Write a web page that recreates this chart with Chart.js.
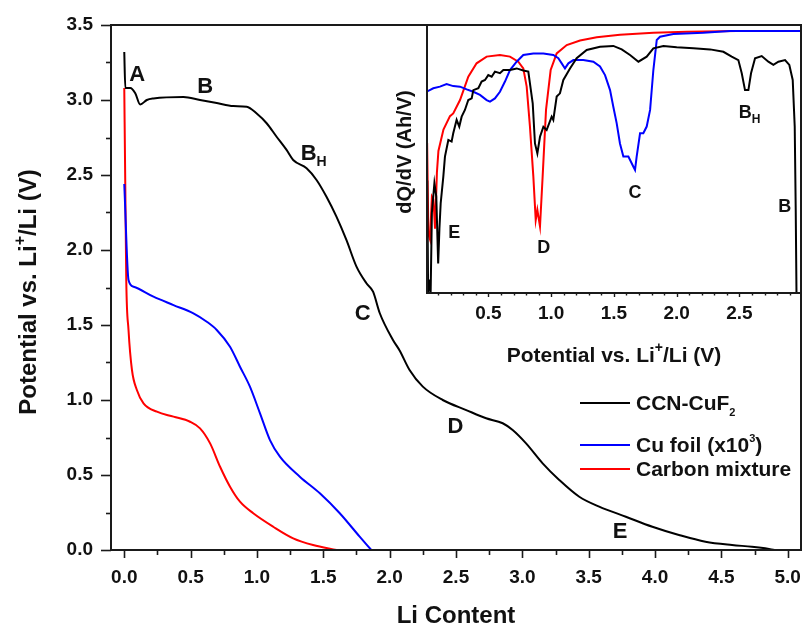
<!DOCTYPE html>
<html>
<head>
<meta charset="utf-8">
<script src="https://cdn.jsdelivr.net/npm/chart.js@4.4.1/dist/chart.umd.min.js"></script>
<style>
  html, body { margin: 0; padding: 0; background: #fff; }
  #wrap { position: relative; width: 803px; height: 625px; }
  #mainChart { position: absolute; left: 0; top: 0; }
  #insetChart { position: absolute; left: 380px; top: 0; }
</style>
</head>
<body>
<div id="wrap">
  <canvas id="mainChart" width="803" height="625"></canvas>
  <canvas id="insetChart" width="423" height="380"></canvas>
</div>
<script>
// ---- main panel: potential vs Li content ----
const ccnX = [0, 0.008, 0.045, 0.083, 0.12, 0.17, 0.22, 0.446, 0.571, 0.697, 0.822, 0.923, 0.998, 1.073, 1.148,
  1.223, 1.273, 1.374, 1.449, 1.524, 1.599, 1.674, 1.75, 1.825, 1.875, 1.925, 2.025, 2.075, 2.15, 2.25, 2.40,
  2.577, 2.727, 2.852, 2.927, 3.028, 3.153, 3.278, 3.429, 3.579, 3.78, 3.98, 4.18, 4.38, 4.58, 4.73, 4.83, 4.90];
const ccnY = [3.32, 3.08, 3.08, 3.045, 2.97, 3.0, 3.01, 3.02, 3.0, 2.98, 2.96, 2.955, 2.91, 2.845, 2.755,
  2.667, 2.60, 2.545, 2.467, 2.355, 2.222, 2.067, 1.889, 1.778, 1.722, 1.58, 1.40, 1.33, 1.20, 1.089, 1.0,
  0.933, 0.878, 0.845, 0.80, 0.711, 0.578, 0.467, 0.355, 0.289, 0.222, 0.155, 0.10, 0.055, 0.033, 0.022, 0.011, 0.0];

const cuX = [0, 0.032, 0.07, 0.22, 0.371, 0.521, 0.622, 0.697, 0.797, 0.872, 0.947, 1.023, 1.098, 1.173,
  1.323, 1.474, 1.624, 1.774, 1.862];
const cuY = [2.44, 1.80, 1.755, 1.689, 1.633, 1.578, 1.522, 1.467, 1.355, 1.222, 1.089, 0.911, 0.733, 0.622,
  0.489, 0.378, 0.245, 0.089, 0.0];

const carbX = [0, 0.008, 0.015, 0.032, 0.058, 0.095, 0.145, 0.246, 0.371, 0.496, 0.571, 0.647, 0.722, 0.797,
  0.872, 0.972, 1.123, 1.273, 1.423, 1.60];
const carbY = [3.08, 2.40, 1.80, 1.467, 1.20, 1.067, 0.978, 0.922, 0.889, 0.855, 0.811, 0.711, 0.555, 0.422,
  0.322, 0.245, 0.155, 0.078, 0.033, 0.0];

const mainXTicks = [0, 0.25, 0.5, 0.75, 1, 1.25, 1.5, 1.75, 2, 2.25, 2.5, 2.75, 3, 3.25, 3.5, 3.75, 4, 4.25, 4.5, 4.75, 5];
const mainYTicks = [0, 0.25, 0.5, 0.75, 1, 1.25, 1.5, 1.75, 2, 2.25, 2.5, 2.75, 3, 3.25, 3.5];

// ---- inset: dQ/dV (arbitrary units, 0 = bottom, 100 = top) ----
const dqCcnX = [0.013, 0.02, 0.03, 0.04, 0.05, 0.07, 0.085, 0.1, 0.11, 0.12, 0.141, 0.154, 0.181, 0.207, 0.22,
  0.247, 0.268, 0.287, 0.313, 0.34, 0.367, 0.38, 0.42, 0.446, 0.473, 0.499, 0.526, 0.552, 0.592, 0.619, 0.672,
  0.725, 0.778, 0.818, 0.853, 0.871, 0.89, 0.911, 0.938, 0.964, 1.004, 1.017, 1.044, 1.07, 1.097, 1.15, 1.203,
  1.283, 1.389, 1.495, 1.562, 1.628, 1.695, 1.761, 1.814, 1.894, 2.0, 2.133, 2.266, 2.372, 2.438, 2.491, 2.518,
  2.544, 2.571, 2.592, 2.624, 2.677, 2.73, 2.77, 2.81, 2.863, 2.897, 2.924, 2.94, 2.948, 2.954];
const dqCcnY = [42, 0, 5, 0, 30, 41, 36, 11, 24, 33.5, 43.4, 50.9, 57.1, 56.5, 59.6,
  64.6, 62.1, 65.8, 68.3, 72.0, 72.6, 75.7, 76.4, 78.9, 79.5, 81.3, 80.7, 82.6, 82.0, 83.2, 83.2,
  83.8, 83.0, 82.6, 70.8, 55.8, 52.1, 58.3, 62.0, 60.8, 65.8, 64.6, 73.3, 74.5, 79.5, 83.8, 87.6,
  90.7, 91.9, 92.2, 90.9, 88.8, 86.3, 88.2, 91.3, 92.2, 91.7, 91.3, 90.9, 90.0, 88.2, 86.9, 82.0,
  75.7, 75.7, 82.0, 87.6, 88.4, 86.3, 85.1, 86.3, 86.9, 85.1, 79.5, 62.1, 31.0, 0];

const dqCuX = [0.008, 0.061, 0.114, 0.167, 0.22, 0.274, 0.327, 0.38, 0.433, 0.486, 0.513, 0.552, 0.592, 0.632,
  0.672, 0.725, 0.778, 0.858, 0.938, 1.017, 1.057, 1.084, 1.11, 1.137, 1.177, 1.256, 1.336, 1.389, 1.429, 1.469,
  1.495, 1.522, 1.548, 1.575, 1.615, 1.655, 1.668, 1.681, 1.708, 1.734, 1.761, 1.788, 1.814, 1.841, 1.867,
  1.973, 2.212, 2.425, 2.99];
const dqCuY = [75.1, 76.4, 77.0, 78.0, 77.2, 77.0, 76.0, 75.1, 73.9, 72.0, 71.4, 72.6, 75.1, 78.9,
  83.2, 86.3, 88.8, 89.4, 89.4, 88.8, 87.6, 85.7, 83.8, 85.7, 86.9, 86.9, 86.3, 84.5, 81.3, 75.7,
  69.5, 63.3, 55.8, 50.9, 50.9, 47.1, 45.9, 50.9, 59.6, 59.6, 62.1, 68.3, 83.2, 94.4, 95.6,
  96.6, 97.1, 97.8, 97.8];

const dqCarbX = [0.012, 0.022, 0.035, 0.05, 0.062, 0.075, 0.09, 0.102, 0.142, 0.194, 0.22, 0.274, 0.34, 0.406,
  0.486, 0.592, 0.672, 0.738, 0.778, 0.805, 0.831, 0.858, 0.877, 0.89, 0.911, 0.932, 0.959, 0.996, 1.044, 1.124,
  1.23, 1.363, 1.548, 1.814, 2.08, 2.478, 2.99];
const dqCarbY = [56, 22, 20, 36, 35, 24, 45, 53, 61, 66, 67, 72.0, 80.7, 85.7,
  88.2, 88.8, 88.2, 86.3, 83.8, 77.0, 62.1, 43.5, 27.2, 31.0, 24.8, 43.4, 68.3, 83.2, 89.4, 92.5,
  94.2, 95.4, 96.4, 97.1, 97.5, 97.8, 97.8];

const insetXTicks = [0.1, 0.2, 0.3, 0.4, 0.5, 0.6, 0.7, 0.8, 0.9, 1.0, 1.1, 1.2, 1.3, 1.4, 1.5, 1.6, 1.7, 1.8,
  1.9, 2.0, 2.1, 2.2, 2.3, 2.4, 2.5, 2.6, 2.7, 2.8, 2.9];

const seriesNames = ["CCN-CuF2", "Cu foil (x10^3)", "Carbon mixture"];
const seriesColors = ["#000000", "#0000ff", "#ff0000"];

// letter labels placed in data units
const mainMarks = [
  { t: "A", x: 0.098, y: 3.18 }, { t: "B", x: 0.609, y: 3.10 }, { t: "B", sub: "H", x: 1.391, y: 2.653 },
  { t: "C", x: 1.797, y: 1.587 }, { t: "D", x: 2.496, y: 0.833 }, { t: "E", x: 3.737, y: 0.133 }
];
const insetMarks = [
  { t: "E", x: 0.228, y: 22.8 }, { t: "D", x: 0.94, y: 17.2 }, { t: "C", x: 1.668, y: 37.7 },
  { t: "B", sub: "H", x: 2.548, y: 67.9 }, { t: "B", x: 2.86, y: 32.5 }
];

const FONT = '"Liberation Sans", Arial, Helvetica, sans-serif';
const AXIS = "#1a1a1a";

const pts = (xs, ys) => xs.map((x, i) => ({ x, y: ys[i] }));
const isHalf = (v) => Math.abs(v * 2 - Math.round(v * 2)) < 1e-6;

// draw text with sub/superscript pieces: {t, s: size factor, dy: baseline shift in em}
function drawRich(ctx, parts, x, y, size, align) {
  let w = 0;
  parts.forEach(p => {
    ctx.font = `bold ${Math.round(size * (p.s || 1))}px ${FONT}`;
    p.w = ctx.measureText(p.t).width;
    w += p.w;
  });
  let cx = align === "center" ? x - w / 2 : x;
  ctx.textAlign = "left";
  ctx.textBaseline = "alphabetic";
  parts.forEach(p => {
    ctx.font = `bold ${Math.round(size * (p.s || 1))}px ${FONT}`;
    ctx.fillText(p.t, cx, y + (p.dy || 0) * size);
    cx += p.w;
  });
}

function drawMarks(ctx, chart, marks, size) {
  const { x: sx, y: sy } = chart.scales;
  ctx.fillStyle = "#111";
  marks.forEach(m => {
    const px = sx.getPixelForValue(m.x);
    const py = sy.getPixelForValue(m.y) + size * 0.36;
    const parts = [{ t: m.t }];
    if (m.sub) parts.push({ t: m.sub, s: 0.65, dy: 0.28 });
    drawRich(ctx, parts, m.sub ? px + size * 0.22 : px, py, size, "center");
  });
}

function drawXTicks(ctx, scale, values, majorLen, minorLen) {
  const y0 = scale.top;
  values.forEach(v => {
    const px = Math.round(scale.getPixelForValue(v)) + 0.5;
    ctx.beginPath();
    ctx.moveTo(px, y0);
    ctx.lineTo(px, y0 + (isHalf(v) ? majorLen : minorLen));
    ctx.stroke();
  });
}

const mainDecor = {
  id: "mainDecor",
  afterDraw(chart) {
    const { ctx, chartArea: a, scales: { x, y } } = chart;
    ctx.save();
    ctx.strokeStyle = AXIS;
    ctx.lineWidth = 2;
    ctx.strokeRect(a.left, a.top, a.right - a.left, a.bottom - a.top);

    ctx.lineWidth = 1.6;
    drawXTicks(ctx, x, mainXTicks, 8, 5);
    mainYTicks.forEach(v => {
      const py = Math.round(y.getPixelForValue(v)) + 0.5;
      ctx.beginPath();
      ctx.moveTo(a.left, py);
      ctx.lineTo(a.left - (isHalf(v) ? 10 : 5), py);
      ctx.stroke();
    });

    drawMarks(ctx, chart, mainMarks, 22);

    // legend
    const rows = [
      { y: 403, parts: [{ t: "CCN-CuF" }, { t: "2", s: 0.55, dy: 0.3 }] },
      { y: 445, parts: [{ t: "Cu foil (x10" }, { t: "3", s: 0.55, dy: -0.5 }, { t: ")" }] },
      { y: 469, parts: [{ t: seriesNames[2] }] }
    ];
    rows.forEach((r, i) => {
      ctx.strokeStyle = seriesColors[i];
      ctx.lineWidth = 2;
      ctx.beginPath();
      ctx.moveTo(580, r.y);
      ctx.lineTo(630, r.y);
      ctx.stroke();
      ctx.fillStyle = "#111";
      drawRich(ctx, r.parts, 636, r.y + 7, 20.5, "left");
    });

    // axis titles
    ctx.fillStyle = "#111";
    drawRich(ctx, [{ t: "Li Content" }], (a.left + a.right) / 2, 623, 24, "center");
    ctx.translate(27, 292);
    ctx.rotate(-Math.PI / 2);
    drawRich(ctx, [{ t: "Potential vs. Li" }, { t: "+", s: 0.65, dy: -0.45 }, { t: "/Li (V)" }], 0, 24 * 0.36, 24, "center");
    ctx.restore();
  }
};

const insetDecor = {
  id: "insetDecor",
  afterDraw(chart) {
    const { ctx, chartArea: a, scales: { x } } = chart;
    ctx.save();
    ctx.strokeStyle = AXIS;
    ctx.lineWidth = 2;
    ctx.strokeRect(a.left, a.top, a.right - a.left, a.bottom - a.top);
    ctx.lineWidth = 1.4;
    drawXTicks(ctx, x, insetXTicks, 4, 2.5);

    drawMarks(ctx, chart, insetMarks, 18);

    ctx.fillStyle = "#111";
    drawRich(ctx, [{ t: "Potential vs. Li" }, { t: "+", s: 0.65, dy: -0.5 }, { t: "/Li (V)" }], 234, 362, 21, "center");
    ctx.translate(24, 152);
    ctx.rotate(-Math.PI / 2);
    drawRich(ctx, [{ t: "dQ/dV (Ah/V)" }], 0, 20 * 0.36, 20, "center");
    ctx.restore();
  }
};

const tickFont = { family: FONT, size: 19, weight: "bold" };

function lineSet(label, data, color, smooth) {
  return {
    label, data, borderColor: color, backgroundColor: color, borderWidth: 2, pointRadius: 0,
    fill: false, cubicInterpolationMode: smooth ? "monotone" : "default", tension: 0
  };
}

new Chart(document.getElementById("mainChart"), {
  type: "line",
  data: {
    datasets: [
      lineSet(seriesNames[0], pts(ccnX, ccnY), seriesColors[0], true),
      lineSet(seriesNames[1], pts(cuX, cuY), seriesColors[1], true),
      lineSet(seriesNames[2], pts(carbX, carbY), seriesColors[2], true)
    ]
  },
  options: {
    responsive: false,
    animation: false,
    events: [],
    layout: { padding: { top: 25, right: 2, left: 0, bottom: 0 } },
    plugins: { legend: { display: false }, tooltip: { enabled: false } },
    scales: {
      x: {
        type: "linear", min: -0.1, max: 5.1,
        afterBuildTicks: s => { s.ticks = mainXTicks.map(v => ({ value: v })); },
        afterFit: s => { s.height = 75; s.paddingLeft = 0; s.paddingRight = 0; },
        grid: { display: false, drawTicks: false },
        border: { display: false },
        ticks: { autoSkip: false, maxRotation: 0, padding: 16, color: "#111", font: tickFont,
          callback: v => isHalf(v) ? v.toFixed(1) : "" }
      },
      y: {
        type: "linear", min: 0, max: 3.5,
        afterBuildTicks: s => { s.ticks = mainYTicks.map(v => ({ value: v })); },
        afterFit: s => { s.width = 111; s.paddingTop = 0; s.paddingBottom = 0; },
        grid: { display: false, drawTicks: false },
        border: { display: false },
        ticks: { autoSkip: false, padding: 18, color: "#111", font: tickFont,
          callback: v => isHalf(v) ? v.toFixed(1) : "" }
      }
    }
  },
  plugins: [mainDecor]
});

new Chart(document.getElementById("insetChart"), {
  type: "line",
  data: {
    datasets: [
      lineSet(seriesNames[0], pts(dqCcnX, dqCcnY), seriesColors[0], false),
      lineSet(seriesNames[1], pts(dqCuX, dqCuY), seriesColors[1], false),
      lineSet(seriesNames[2], pts(dqCarbX, dqCarbY), seriesColors[2], false)
    ]
  },
  options: {
    responsive: false,
    animation: false,
    events: [],
    layout: { padding: { top: 25, right: 2, left: 47, bottom: 0 } },
    plugins: { legend: { display: false }, tooltip: { enabled: false } },
    scales: {
      x: {
        type: "linear", min: 0.011, max: 2.99,
        afterBuildTicks: s => { s.ticks = insetXTicks.map(v => ({ value: v })); },
        afterFit: s => { s.height = 87; s.paddingLeft = 0; s.paddingRight = 0; },
        grid: { display: false, drawTicks: false },
        border: { display: false },
        ticks: { autoSkip: false, maxRotation: 0, padding: 9, color: "#111", font: tickFont,
          callback: v => isHalf(v) ? v.toFixed(1) : "" }
      },
      y: { type: "linear", min: 0, max: 100, display: false }
    }
  },
  plugins: [insetDecor]
});
</script>
</body>
</html>
